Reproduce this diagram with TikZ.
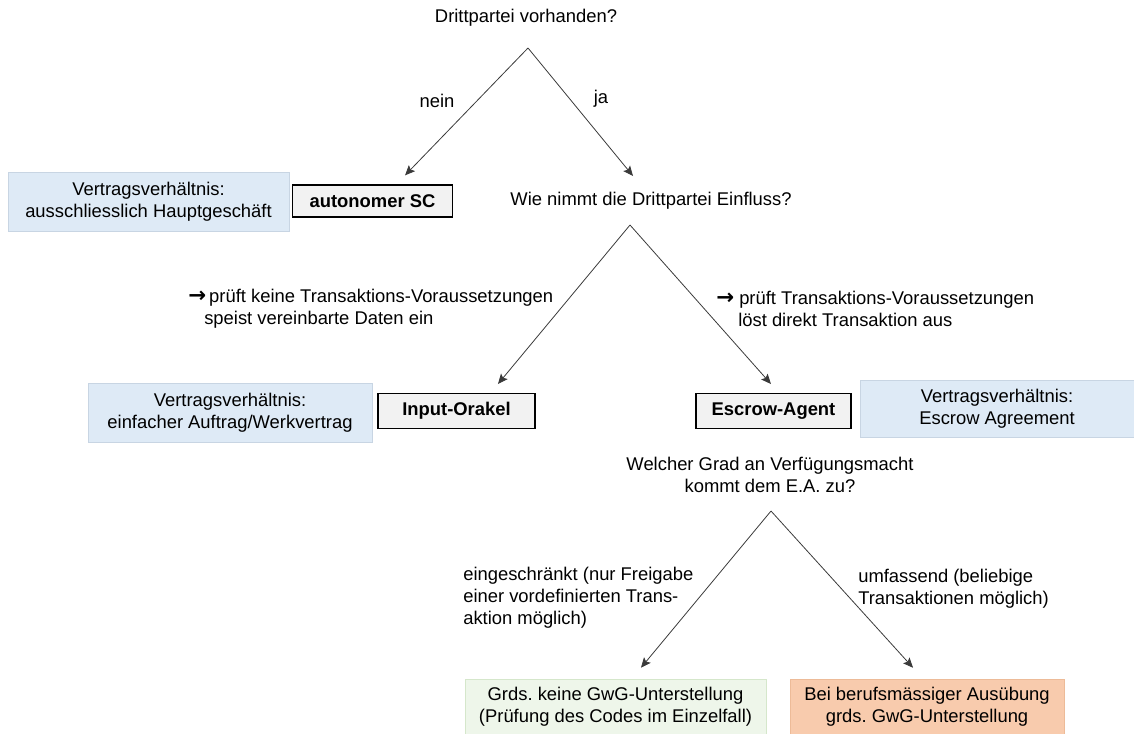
\documentclass[tikz,border=0pt]{standalone}
\usepackage{fontspec}
\setmainfont{Liberation Sans}
\newfontfamily\arrowfont{DejaVu Sans}
\frenchspacing
\usetikzlibrary{arrows.meta}
\definecolor{ink}{HTML}{000000}
\definecolor{wire}{HTML}{3A3A3A}
\definecolor{paleblue}{HTML}{DEEAF6}
\definecolor{blueline}{HTML}{C8D5E3}
\definecolor{palegreen}{HTML}{EEF6EA}
\definecolor{greenline}{HTML}{D5E7CB}
\definecolor{peach}{HTML}{F8CBAD}
\definecolor{peachline}{HTML}{EDBB98}
\definecolor{chip}{HTML}{F2F2F2}
\newcommand{\tick}{{\arrowfont\bfseries\fontsize{16}{16.5}\selectfont →}}

\begin{document}
\begin{tikzpicture}[x=0.75pt,y=-0.75pt,
          every node/.style={font=\fontsize{13.8}{16.5}\selectfont,inner sep=0pt},
          note/.style={rectangle,draw=blueline,fill=paleblue,align=center,
              minimum height=44pt},
          role/.style={rectangle,draw=ink,fill=chip,line width=1pt,
              minimum height=26pt,font=\fontsize{13.8}{16.5}\selectfont\bfseries},
          verdict/.style={rectangle,align=center,minimum height=42pt},
          arr/.style={-{Stealth[length=7.5pt,width=6.5pt,inset=1.5pt]},wire,line width=.6pt}]
        \useasboundingbox (0,0) rectangle (1134,733);

        \node (q1) at (526,18) {Drittpartei vorhanden?};
        \node (nein) at (437,101) {nein};
        \node (ja) at (601,99) {ja};
        \node[note,minimum width=210.75pt] (vv1) at (148.5,202)
          {Vertragsverhältnis:\\ausschliesslich Hauptgeschäft};
        \node[role,minimum width=120pt,minimum height=24pt] (auto) at (372.5,201) {autonomer SC};
        \node (q2) at (651,201) {Wie nimmt die Drittpartei Einfluss?};

        \node[anchor=west,align=left] (orlab) at (188,308.5)
          {\tick\,prüft keine Transaktions-Voraussetzungen\\\hspace*{12pt}speist vereinbarte Daten ein};
        \node[anchor=west,align=left] (ealab) at (716,308.5)
          {\tick\ prüft Transaktions-Voraussetzungen\\\hspace*{16.5pt}löst direkt Transaktion aus};

        \node[note,minimum width=213pt] (vv2) at (230,413)
          {Vertragsverhältnis:\\einfacher Auftrag/Werkvertrag};
        \node[role,minimum width=117.75pt] (io) at (456.5,411) {Input-Orakel};
        \node[role,minimum width=116.25pt] (ea) at (773.5,411) {Escrow-Agent};
        \node[note,minimum width=205.5pt,minimum height=42.75pt] (vv3) at (997,408.5)
          {Vertragsverhältnis:\\Escrow Agreement};

        \node[align=center] (q3) at (770,474.5)
          {Welcher Grad an Verfügungsmacht\\kommt dem E.A. zu?};
        \node[anchor=west,align=left] (limlab) at (463,598)
          {eingeschränkt (nur Freigabe\\einer vordefinierten Trans-\\aktion möglich)};
        \node[anchor=west,align=left] (fulllab) at (858,588.5)
          {umfassend (beliebige\\Transaktionen möglich)};

        \node[verdict,draw=greenline,fill=palegreen,minimum width=225.75pt] (nogwg) at (615.5,707)
          {Grds. keine GwG-Unterstellung\\(Prüfung des Codes im Einzelfall)};
        \node[verdict,draw=peachline,fill=peach,minimum width=205.5pt] (gwg) at (927,707)
          {Bei berufsmässiger Ausübung\\grds. GwG-Unterstellung};

        \coordinate (s1) at (528,48);
        \coordinate (s2) at (630,225);
        \coordinate (s3) at (771,511);
        \foreach \s/\t/\dx/\dy in {s1/auto.north/24.4/6.75, s1/q2.center/-13.5/18.75,
            s2/io.north/31.1/6.75, s2/ea.north/-1.9/6.75,
            s3/nogwg.north/19.1/8.25, s3/gwg.north/-10.5/8.25}{
          \draw[arr] (\s)--([xshift=\dx pt,yshift=\dy pt]\t);
        }
      \end{tikzpicture}
\end{document}
